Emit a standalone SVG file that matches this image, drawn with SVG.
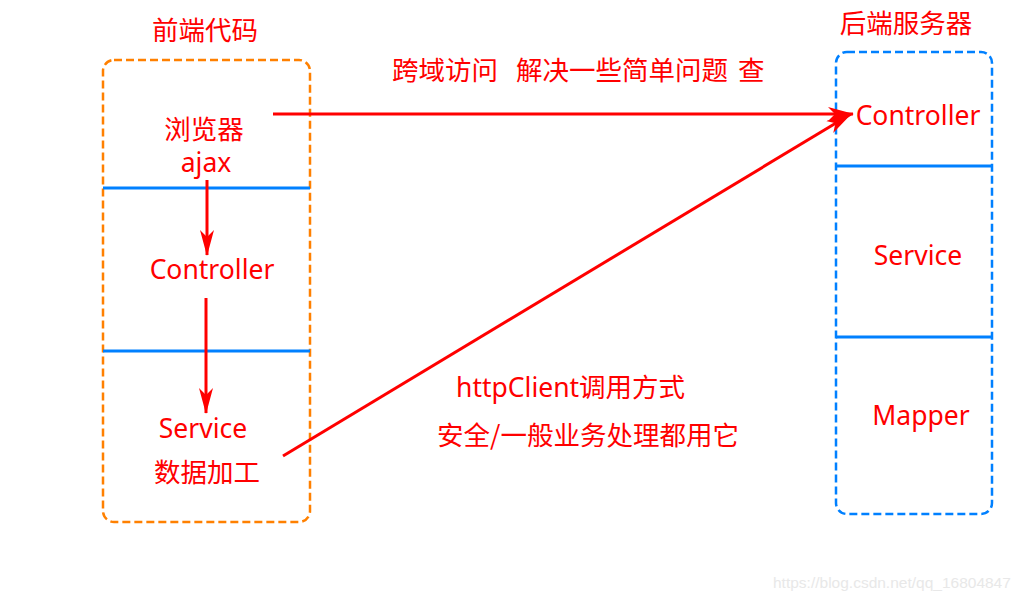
<svg xmlns="http://www.w3.org/2000/svg" width="1025" height="600" viewBox="0 0 1025 600">
<style>
.t{font-family:"Noto Sans","Noto Sans CJK SC",sans-serif;fill:#ff0000;font-size:26.5px}
.c{font-family:"Noto Sans CJK SC",sans-serif;fill:#ff0000;font-size:26.5px}
.box1{fill:none;stroke:#ff8000;stroke-width:2.5;stroke-dasharray:8 4}
.box2{fill:none;stroke:#0080ff;stroke-width:2.5;stroke-dasharray:8 4}
.div{stroke:#0080ff;stroke-width:3}
.arr{stroke:#ff0000;stroke-width:3;fill:none;marker-end:url(#ah)}
.wm{font-family:"Liberation Sans",Arial,sans-serif;font-size:15.5px;fill:#e8e8e8}
</style>
<defs>
<marker id="ah" markerUnits="userSpaceOnUse" markerWidth="26" markerHeight="14" viewBox="0 0 26 14" refX="25" refY="7" orient="auto">
<path d="M0,0 L26,7 L0,14 L7,7 z" fill="#ff0000"/>
</marker>
</defs>
<rect width="1025" height="600" fill="#ffffff"/>
<g id="frontend">
<rect class="box1" x="103" y="60" width="207" height="462" rx="11"/>
<line class="div" x1="103" y1="188" x2="310" y2="188"/>
<line class="div" x1="103" y1="351" x2="310" y2="351"/>
<text class="c" x="205" y="40" text-anchor="middle">前端代码</text>
</g>
<g id="browser">
<text class="c" x="204" y="139" text-anchor="middle" font-size="25.5">浏览器</text>
<text class="t" x="206" y="172" text-anchor="middle" font-size="23.5">ajax</text>
</g>
<g id="fe-controller">
<text class="t" x="212" y="279" text-anchor="middle">Controller</text>
</g>
<g id="fe-service">
<text class="t" x="203" y="438" text-anchor="middle">Service</text>
<text class="c" x="207" y="482" text-anchor="middle">数据加工</text>
</g>
<g id="backend">
<rect class="box2" x="836" y="52" width="156" height="462" rx="11"/>
<line class="div" x1="836" y1="166" x2="992" y2="166"/>
<line class="div" x1="836" y1="337" x2="992" y2="337"/>
<text class="c" x="906" y="33" text-anchor="middle">后端服务器</text>
</g>
<g id="be-controller">
<text class="t" x="918" y="125" text-anchor="middle">Controller</text>
</g>
<g id="be-service">
<text class="t" x="918" y="265" text-anchor="middle">Service</text>
</g>
<g id="be-mapper">
<text class="t" x="921" y="425" text-anchor="middle">Mapper</text>
</g>
<g id="connectors">
<line class="arr" x1="273" y1="114" x2="853" y2="114"/>
<line class="arr" x1="283" y1="456" x2="851" y2="114"/>
<line class="arr" x1="207" y1="180" x2="207" y2="255"/>
<line class="arr" x1="206" y1="298" x2="206" y2="413"/>
</g>
<g id="labels">
<text class="c" x="392" y="80">跨域访问</text>
<text class="c" x="516" y="80">解决一些简单问题</text>
<text class="c" x="738" y="80">查</text>
<text class="t" x="456" y="397">httpClient调用方式</text>
<text class="c" x="437" y="445">安全/一般业务处理都用它</text>
</g>
<text class="wm" x="773" y="588">https://blog.csdn.net/qq_16804847</text>
</svg>
